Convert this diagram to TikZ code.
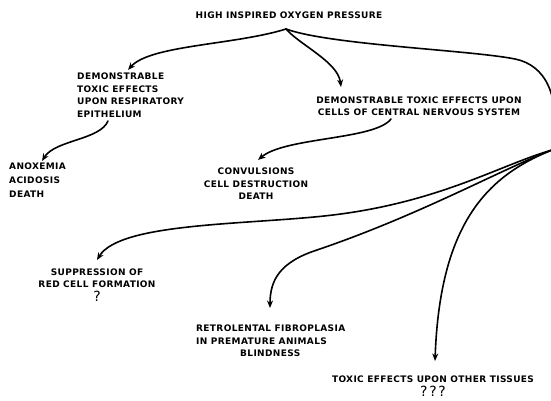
\documentclass[tikz,border=0pt]{standalone}
\usepackage{fontspec}
\setmainfont{DejaVu Sans}
\newfontfamily\lab[LetterSpace=4]{DejaVu Sans}
\newfontfamily\qfont[LetterSpace=12]{DejaVu Sans}
\usetikzlibrary{arrows.meta}
\begin{document}
\begin{tikzpicture}[x=1pt,y=-1pt,
  lbl/.style={inner sep=0pt, font=\lab\bfseries\fontsize{9}{12.5}\selectfont},
  conn/.style={line width=1.6pt, line cap=round},
  arr/.style={conn, -{Stealth[length=7.5pt,width=6pt]}}]
\useasboundingbox (0,0) rectangle (551,401);
\clip (0,0) rectangle (551,401);
% texts
\node[lbl] (top) at (289,15) {HIGH INSPIRED OXYGEN PRESSURE};
\node[lbl,align=left,anchor=west] (resp) at (77,95) {DEMONSTRABLE\\TOXIC EFFECTS\\UPON RESPIRATORY\\EPITHELIUM};
\node[lbl,align=center] (cns) at (419,106) {DEMONSTRABLE TOXIC EFFECTS UPON\\CELLS OF CENTRAL NERVOUS SYSTEM};
\node[lbl,align=left,anchor=west,font=\lab\bfseries\fontsize{9}{14}\selectfont] (anox) at (9,180) {ANOXEMIA\\ACIDOSIS\\DEATH};
\node[lbl,align=center] (conv) at (256,184) {CONVULSIONS\\CELL DESTRUCTION\\DEATH};
\node[lbl,align=center] (supp) at (97,285) {SUPPRESSION OF\\RED CELL FORMATION\\[1pt]{\qfont\mdseries\fontsize{14}{14}\selectfont ?}};
\node[lbl,align=left,anchor=north west] (retro) at (196,325) {RETROLENTAL FIBROPLASIA\\IN PREMATURE ANIMALS\\\hspace*{44pt}BLINDNESS};
\node[lbl,align=center] (other) at (433,386) {TOXIC EFFECTS UPON OTHER TISSUES\\[1pt]{\qfont\mdseries\fontsize{14}{14}\selectfont ???}};
% junctions and arrow tips
\coordinate (hub) at (286,29);
\coordinate (J) at (552,150);
\coordinate (respTip) at (128,70);
\coordinate (cnsTip) at (341,87);
\coordinate (anoxTip) at (42,161);
\coordinate (convTip) at (258,160);
\coordinate (suppTip) at (97,260);
\coordinate (retroTip) at (270,308);
\coordinate (otherTip) at (435,361);
\coordinate (respOut) at (108,121);
\coordinate (cnsOut) at (391,119);
% connectors
\draw[arr] (hub) .. controls (235,45) and (150,45) .. (respTip);
\draw[arr] (hub) .. controls (300,45) and (338,62) .. (cnsTip);
\draw[conn] (hub) .. controls (330,45) and (470,50) .. (515,59) .. controls (545,65) and (562,95) .. (J);
\draw[arr] (respOut) .. controls (100,140) and (55,140) .. (anoxTip);
\draw[arr] (cnsOut) .. controls (375,140) and (285,137) .. (convTip);
\draw[arr] (J) .. controls (500,165) and (440,202) .. (333,215) .. controls (250,225) and (120,222) .. (suppTip);
\draw[arr] (J) .. controls (500,170) and (420,215) .. (317,250) .. controls (280,262) and (270,280) .. (retroTip);
\draw[arr] (J) .. controls (490,175) and (440,220) .. (otherTip);
\end{tikzpicture}
\end{document}
